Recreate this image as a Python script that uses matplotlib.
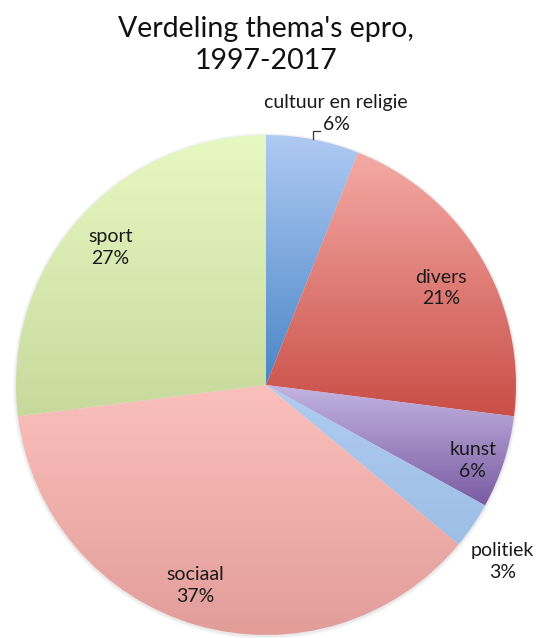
import numpy as np
import matplotlib
matplotlib.use('Agg')
from matplotlib import pyplot as plt
from matplotlib.colors import to_rgb
from matplotlib.patches import Circle

plt.rcParams['font.family'] = ['Lato', 'DejaVu Sans']

# thema's en aandeel in procenten
themas = ['cultuur en religie', 'divers', 'kunst', 'politiek', 'sociaal', 'sport']
aandeel = [6, 21, 6, 3, 37, 27]

# verloop per taartpunt: kleur boven, kleur onder
kleur_boven = ['#afcaf3', '#f5aaa5', '#c3b5e1', '#b0ccf2', '#fbc0bc', '#e7f9c2']
kleur_onder = ['#4a85c6', '#c94e47', '#7a5ba3', '#9dbee5', '#e29d99', '#c7d99c']

# plaats van het label: fractie van de straal en hoekverschuiving t.o.v. het midden
label_afstand = [1.12, 0.80, 0.88, 1.18, 0.85, 0.83]
label_draai = [-3.7, -1.6, -2.0, -2.5, -3.3, -0.1]

W, H = 546, 638
cx, cy, R = 266, H - 385, 250

fig = plt.figure(figsize=(W / 100, H / 100), dpi=100)
ax = fig.add_axes([0, 0, 1, 1])

# zachte schaduw rond de taart
for i, a in enumerate([0.05, 0.05, 0.06]):
    ax.add_patch(Circle((cx, cy - 1), R + 3 - i, color='#808080', alpha=a, lw=0, zorder=0))

wedges, _ = ax.pie(aandeel, startangle=90, counterclock=False, radius=R,
                   center=(cx, cy), frame=True,
                   wedgeprops=dict(linewidth=0, antialiased=True))
ax.set_xlim(0, W)
ax.set_ylim(0, H)
ax.set_aspect('equal')
ax.axis('off')

for w, top, bot in zip(wedges, kleur_boven, kleur_onder):
    w.set_facecolor('none')
    ext = w.get_path().get_extents()
    t = np.linspace(0, 1, 256)[:, None, None]
    grad = (1 - t) * np.array(to_rgb(bot)) + t * np.array(to_rgb(top))
    im = ax.imshow(grad, extent=(ext.x0, ext.x1, ext.y0, ext.y1), origin='lower',
                   aspect='auto', interpolation='bilinear', zorder=1)
    im.set_clip_path(w)

# labels
for w, naam, pct, d, dr in zip(wedges, themas, aandeel, label_afstand, label_draai):
    mid = np.deg2rad((w.theta1 + w.theta2) / 2 + dr)
    x = cx + d * R * np.cos(mid)
    y = cy + d * R * np.sin(mid)
    ax.text(x, y, f'{naam}\n{pct}%', ha='center', va='center', fontsize=14,
            color='#1a1a1a', linespacing=1.35, zorder=3)

# verbindingslijntje naar het label van cultuur en religie
ax.plot([313, 313, 320], [H - 139, H - 131, H - 131], color='#333333', lw=0.9, zorder=3)

fig.text(0.487, 1 - 45 / H, "Verdeling thema's epro,\n1997-2017", ha='center', va='center',
         fontsize=20.5, color='#111111', linespacing=1.3)

fig.savefig('out.png', dpi=100, facecolor='white')
